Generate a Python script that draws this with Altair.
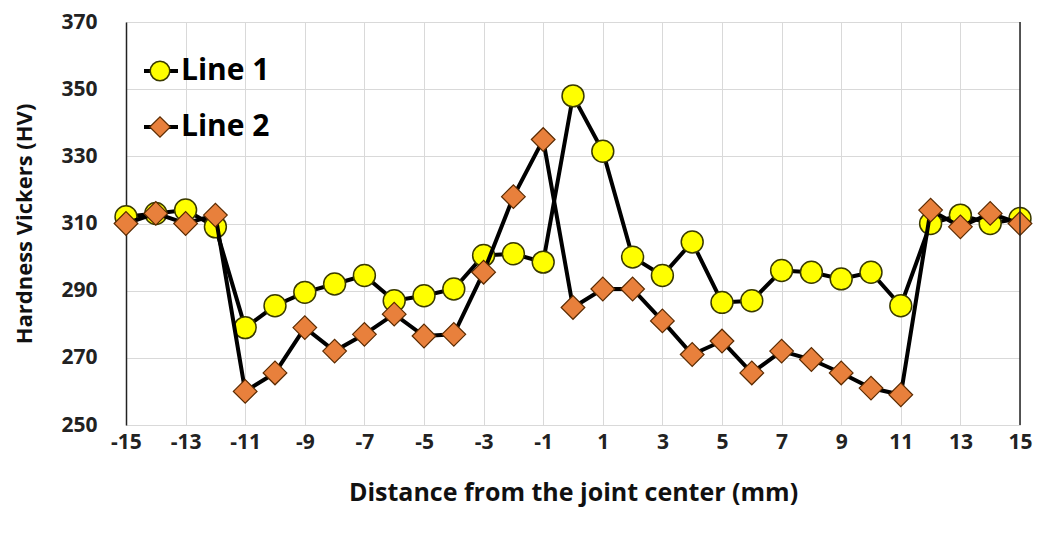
import altair as alt
import pandas as pd

distance = list(range(-15, 16))
line1 = [312, 313, 314, 309, 279, 285.5, 289.5, 292, 294.5, 287, 288.5, 290.5, 300.5,
         301, 298.5, 348, 331.5, 300, 294.5, 304.5, 286.5, 287, 296, 295.5, 293.5, 295.5,
         285.5, 310, 312.5, 310, 311.5]
line2 = [310, 313, 310, 312.5, 260, 265.5, 279, 272, 277, 283, 276.5, 277, 295.5,
         318, 335, 285, 290.5, 290.5, 281, 271, 275, 265.5, 272, 269.5, 265.5, 261,
         259, 314, 309, 313, 310]
series_names = ["Line 1", "Line 2"]

df1 = pd.DataFrame({"x": distance, "y": line1, "s": series_names[0]})
df2 = pd.DataFrame({"x": distance, "y": line2, "s": series_names[1]})

FONT = "Open Sans"
x_ticks = list(range(-15, 16, 2))
y_ticks = list(range(250, 371, 20))

xenc = alt.X("x:Q", scale=alt.Scale(domain=[-15, 15], nice=False),
             axis=alt.Axis(values=x_ticks, title="Distance from the joint center (mm)",
                           grid=True, gridColor="#d9d9d9", ticks=False, domain=False,
                           labelExpr="'' + datum.value", labelFlush=False,
                           labelFontSize=21, labelFont=FONT, labelFontWeight="bold",
                           labelColor="#222222", labelPadding=6,
                           titleFontSize=25, titleFont=FONT, titleFontWeight="bold",
                           titleColor="#111111", titleY=67, titleBaseline="middle"))
yenc = alt.Y("y:Q", scale=alt.Scale(domain=[250, 370], nice=False, zero=False),
             axis=alt.Axis(values=y_ticks, title="Hardness Vickers (HV)",
                           grid=True, gridColor="#d9d9d9", ticks=False,
                           domain=True, domainColor="#222222", domainWidth=1.5,
                           labelFontSize=21, labelFont=FONT, labelFontWeight="bold",
                           labelColor="#222222", labelPadding=29,
                           titleFontSize=22, titleFont=FONT, titleFontWeight="bold",
                           titleColor="#111111", titleX=-102, titleBaseline="middle"))

circle_fill = "#ffff00"
circle_stroke = "#3a3a00"
diamond_fill = "#e8803c"
diamond_stroke = "#5a2a00"

l1 = alt.Chart(df1).mark_line(color="black", strokeWidth=4).encode(x=xenc, y=yenc)
p1 = alt.Chart(df1).mark_point(shape="circle", filled=True, fill=circle_fill,
                               stroke=circle_stroke, strokeWidth=1.5, opacity=1,
                               size=480).encode(x="x:Q", y="y:Q")
l2 = alt.Chart(df2).mark_line(color="black", strokeWidth=4).encode(x="x:Q", y="y:Q")
p2 = alt.Chart(df2).mark_point(shape="diamond", filled=True, fill=diamond_fill,
                               stroke=diamond_stroke, strokeWidth=1.2, opacity=1,
                               size=560).encode(x="x:Q", y="y:Q")

right_border = alt.Chart(pd.DataFrame({"x": [15]})).mark_rule(
    color="#222222", strokeWidth=1.5).encode(x="x:Q")

leg = alt.Data(values=[{"a": 1}])
leg_layers = []
for i, name in enumerate(series_names):
    yy = 49 + i * 56
    leg_layers.append(alt.Chart(leg).mark_rule(color="black", strokeWidth=4).encode(
        x=alt.value(18), x2=alt.value(52), y=alt.value(yy)))
    if i == 0:
        leg_layers.append(alt.Chart(leg).mark_point(
            shape="circle", filled=True, fill=circle_fill, stroke=circle_stroke,
            strokeWidth=1.5, opacity=1, size=380).encode(x=alt.value(34), y=alt.value(yy)))
    else:
        leg_layers.append(alt.Chart(leg).mark_point(
            shape="diamond", filled=True, fill=diamond_fill, stroke=diamond_stroke,
            strokeWidth=1.2, opacity=1, size=420).encode(x=alt.value(34), y=alt.value(yy)))
    leg_layers.append(alt.Chart(leg).mark_text(
        text=name, font=FONT, fontWeight="bold", fontSize=30, align="left",
        baseline="middle", color="black").encode(x=alt.value(55), y=alt.value(yy)))

chart = alt.layer(l1, p1, l2, p2, right_border, *leg_layers).properties(
    width=894, height=403,
    autosize=alt.AutoSizeParams(type="none"),
    padding={"left": 118, "top": 14, "right": 14, "bottom": 100},
    background="white",
).configure_view(stroke=None)

chart.save("out.html", embed_options={"renderer": "svg", "actions": False})
